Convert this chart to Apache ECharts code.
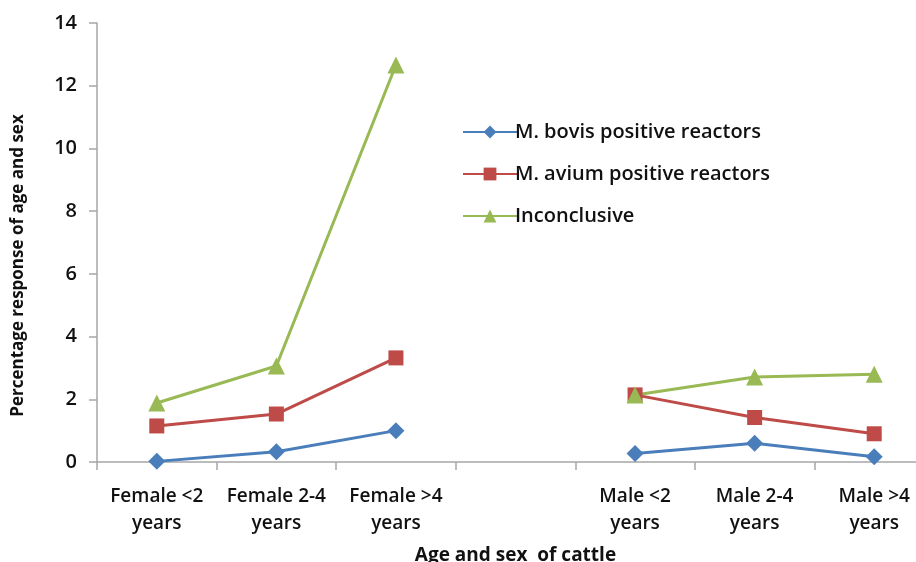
<!DOCTYPE html>
<html><head><meta charset="utf-8">
<script src="https://cdn.jsdelivr.net/npm/echarts@6/dist/echarts.min.js"></script>
<style>html,body{margin:0;padding:0;background:#fff;overflow:hidden;width:916px;height:562px}#c{width:935px;height:562px}</style>
</head><body><div id="c"></div>
<script>
const categories = ['Female <2\nyears', 'Female 2-4\nyears', 'Female >4\nyears', '', 'Male <2\nyears', 'Male 2-4\nyears', 'Male >4\nyears'];
const bovis = [0.02, 0.33, 1.0, null, 0.27, 0.6, 0.17];
const avium = [1.15, 1.53, 3.32, null, 2.14, 1.42, 0.9];
const inconclusive = [1.88, 3.06, 12.66, null, 2.14, 2.71, 2.8];
const yTicks = [0, 2, 4, 6, 8, 10, 12, 14];

const font = '"Open Sans", Lato, sans-serif';
const chart = echarts.init(document.getElementById('c'));
function ser(name, data, color, symbol, size) {
  return {name, type: 'line', data, symbol, symbolSize: size, connectNulls: false,
    lineStyle: {color, width: 3}, itemStyle: {color}, z: 3};
}
chart.setOption({
  animation: false,
  grid: {left: 97, top: 23, bottom: 100, right: 1, containLabel: false, outerBoundsMode: 'none'},
  legend: {
    orient: 'vertical', left: 457, top: 117, itemGap: 22, itemWidth: 54, itemHeight: 16,
    textStyle: {fontFamily: font, fontSize: 20, fontWeight: 600, color: '#111', padding: [0, 0, 0, -7]},
    data: ['M. bovis positive reactors', 'M. avium positive reactors', 'Inconclusive']
  },
  xAxis: {
    type: 'category', data: categories, boundaryGap: true,
    name: 'Age and sex  of cattle', nameLocation: 'middle', nameGap: 84,
    nameTextStyle: {fontFamily: font, fontSize: 19, fontWeight: 'bold', color: '#111'},
    axisLine: {lineStyle: {color: '#a6a6a6', width: 1.5}},
    axisTick: {show: true, length: 8, lineStyle: {color: '#a6a6a6', width: 1.5}},
    axisLabel: {fontFamily: font, fontSize: 19, fontWeight: 600, color: '#111', lineHeight: 27, margin: 21, interval: 0}
  },
  yAxis: {
    type: 'value', min: yTicks[0], max: yTicks[yTicks.length - 1], interval: 2,
    name: 'Percentage response of age and sex', nameLocation: 'middle', nameGap: 70,
    nameTextStyle: {fontFamily: font, fontSize: 17, fontWeight: 'bold', color: '#111', padding: [0, 0, 0, -46]},
    axisLine: {show: true, lineStyle: {color: '#a6a6a6', width: 1.5}},
    axisTick: {show: true, length: 8, lineStyle: {color: '#a6a6a6', width: 1.5}},
    splitLine: {show: false},
    axisLabel: {fontFamily: font, fontSize: 20, fontWeight: 600, color: '#111', margin: 20}
  },
  series: [
    ser('M. bovis positive reactors', bovis, '#4a7ebb', 'diamond', 17),
    ser('M. avium positive reactors', avium, '#be4b48', 'rect', 15),
    ser('Inconclusive', inconclusive, '#98b954', 'triangle', 17)
  ]
});
</script></body></html>
